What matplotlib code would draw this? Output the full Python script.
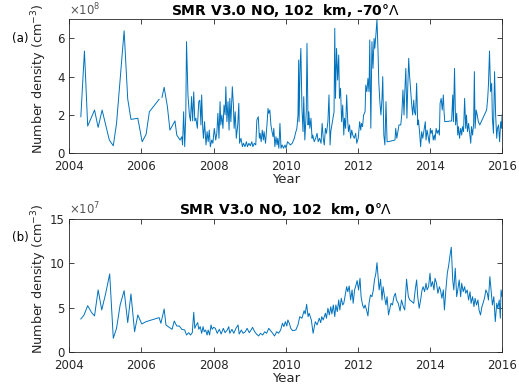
import numpy as np
import matplotlib
matplotlib.use('Agg')
import matplotlib.pyplot as plt

plt.rcParams['font.family'] = ['DejaVu Sans']

# -70 deg panel: decimal year, number density in units of 1e8 cm^-3 (nan = gap)
years_a = [2004.32, 2004.42, 2004.51, 2004.70, 2004.80, 2004.91, 2005.11, 2005.22, 2005.31, 2005.52,
           2005.62, 2005.71, 2005.90, 2006.02, 2006.13, 2006.22, 2006.49, 2006.53, 2006.57, 2006.63,
           2006.72, 2006.79, 2006.93, 2006.98, 2007.07, 2007.12, 2007.14, 2007.17, 2007.20, 2007.23,
           2007.25, 2007.29, 2007.33, 2007.36, 2007.39, 2007.42, 2007.45, 2007.48, 2007.51, 2007.55,
           2007.59, 2007.62, 2007.65, 2007.67, 2007.70, 2007.72, 2007.75, 2007.79, 2007.82, 2007.85,
           2007.88, 2007.91, 2007.95, 2007.98, 2008.02, 2008.06, 2008.09, 2008.12, 2008.15, 2008.18,
           2008.20, 2008.23, 2008.26, 2008.29, 2008.32, 2008.34, 2008.37, 2008.40, 2008.43, 2008.45,
           2008.48, 2008.52, 2008.55, 2008.57, 2008.60, 2008.63, 2008.67, 2008.70, 2008.72, 2008.76,
           2008.80, 2008.83, 2008.87, 2008.91, 2008.94, 2008.98, 2009.02, 2009.06, 2009.09, 2009.13,
           2009.17, 2009.20, 2009.24, 2009.27, 2009.29, 2009.32, 2009.35, 2009.38, 2009.40, 2009.44,
           2009.48, 2009.51, 2009.53, 2009.56, 2009.59, 2009.62, 2009.65, 2009.67, 2009.70, 2009.73,
           2009.76, 2009.78, 2009.81, 2009.84, 2009.87, 2009.90, 2009.94, 2009.98, 2010.01, 2010.05,
           2010.09, 2010.13, 2010.18, 2010.24, 2010.27, 2010.31, 2010.34, 2010.36, 2010.37, 2010.40,
           2010.42, 2010.45, 2010.48, 2010.50, 2010.53, 2010.57, 2010.59, 2010.62, 2010.64, 2010.67,
           2010.70, 2010.73, 2010.75, 2010.79, 2010.83, 2010.87, 2010.90, 2010.94, 2010.98, 2011.01,
           2011.04, 2011.07, 2011.10, 2011.13, 2011.17, 2011.20, 2011.23, 2011.25, 2011.28, 2011.31,
           2011.34, 2011.36, 2011.38, 2011.41, 2011.44, 2011.47, 2011.49, 2011.52, 2011.55, 2011.58,
           2011.61, 2011.63, 2011.66, 2011.69, 2011.72, 2011.74, 2011.77, 2011.80, 2011.83, 2011.86,
           2011.90, 2011.94, 2011.97, 2012.01, 2012.05, 2012.08, 2012.10, 2012.13, 2012.16, 2012.20,
           2012.22, 2012.25, 2012.28, 2012.31, 2012.33, 2012.36, 2012.39, 2012.42, 2012.45, 2012.47,
           2012.50, 2012.53, 2012.56, 2012.58, 2012.61, 2012.64, 2012.67, 2012.69, 2012.72, 2012.75,
           2012.78, 2012.81, 2012.84, 2013.03, 2013.05, 2013.08, 2013.14, 2013.19, 2013.22, 2013.25,
           2013.28, 2013.30, 2013.33, 2013.36, 2013.38, 2013.41, 2013.43, 2013.46, 2013.49, 2013.52,
           2013.55, 2013.57, 2013.60, 2013.63, 2013.66, 2013.68, 2013.71, 2013.74, 2013.77, 2013.80,
           2013.84, 2013.87, 2013.89, 2013.92, 2013.95, 2013.98, 2014.01, 2014.03, 2014.06, 2014.09,
           2014.12, 2014.14, 2014.17, 2014.20, 2014.23, 2014.26, 2014.28, 2014.31, 2014.34, 2014.37,
           2014.39, 2014.41, 2014.60, 2014.63, 2014.65, 2014.68, 2014.71, 2014.74, 2014.77, 2014.79,
           2014.82, 2014.85, 2014.88, 2014.90, 2014.93, 2014.96, 2014.99, 2015.01, 2015.04, 2015.07,
           2015.10, 2015.13, 2015.15, 2015.18, 2015.21, 2015.23, 2015.25, 2015.28, 2015.31, 2015.34,
           2015.38, 2015.57, 2015.60, 2015.62, 2015.65, 2015.68, 2015.71, 2015.73, 2015.76, 2015.79,
           2015.82, 2015.85, 2015.87, 2015.90, 2015.93, 2015.96, 2015.98, 2016.00]
dens_a = [1.90, 5.34, 1.41, 2.25, 1.34, 2.25, 0.68, 0.38, 1.55, 6.40,
          2.83, 1.76, 1.82, 0.59, 0.98, 2.16, 2.81, np.nan, 2.91, 3.44,
          2.43, 1.20, 1.68, 0.94, 0.68, 0.85, 0.42, 2.16, 0.33, 2.00,
          5.83, 3.04, 1.99, 1.68, 2.95, 1.68, 3.20, 1.68, 1.82, 1.29,
          2.69, 2.77, 1.47, 3.04, 1.29, 0.77, 1.64, 0.42, 1.12, 0.59,
          1.20, 0.33, 0.68, 0.51, 1.29, 0.68, 1.03, 2.08, 0.77, 2.69,
          1.47, 1.99, 1.29, 2.51, 2.00, 3.47, 1.64, 2.69, 1.20, 2.86,
          1.64, 3.47, 2.51, 1.29, 2.16, 0.77, 1.47, 2.60, 0.51, 0.77,
          0.33, 0.51, 0.33, 0.59, 0.33, 0.51, 0.38, 0.59, 0.33, 0.51,
          0.42, 1.73, 1.90, 0.77, 1.03, 0.59, 1.20, 0.68, 1.12, 0.51,
          1.47, 2.33, 2.08, 2.25, 1.47, 1.12, 0.85, 1.29, 0.33, 0.85,
          0.42, 0.77, 0.25, 1.55, 0.25, 0.42, 0.25, 0.42, 0.25, 0.59,
          0.51, 0.42, 0.51, 0.77, 1.03, 1.29, 1.99, 4.87, 1.64, 4.60,
          5.48, 2.33, 1.12, 2.95, 0.68, 2.16, 5.74, 1.47, 2.16, 1.29,
          1.82, 0.77, 0.94, 0.59, 0.77, 1.03, 0.59, 0.77, 0.51, 1.55,
          0.77, 0.42, 1.29, 1.03, 1.64, 3.04, 0.42, 1.12, 1.47, 1.82,
          2.16, 6.53, 2.86, 5.48, 3.82, 5.13, 2.86, 3.39, 1.64, 2.51,
          0.94, 1.82, 1.29, 3.04, 1.64, 1.12, 1.47, 0.77, 1.20, 0.94,
          0.77, 1.03, 0.51, 0.77, 1.64, 1.20, 1.55, 1.38, 1.99, 2.16,
          3.56, 3.21, 3.91, 3.21, 5.92, 1.30, 5.83, 4.43, 6.00, 5.48,
          6.18, 7.00, 5.30, 3.73, 2.69, 1.99, 2.86, 4.00, 0.94, 0.42,
          2.69, 0.59, 0.59, 0.68, 1.29, 0.77, 1.47, 1.47, 2.08, 3.30,
          1.99, 3.13, 4.43, 1.82, 3.21, 4.96, 4.17, 3.39, 2.60, 1.99,
          2.77, 2.16, 1.99, 3.65, 1.47, 1.73, 1.12, 0.33, 1.12, 0.77,
          1.29, 1.64, 0.68, 1.20, 0.85, 0.51, 1.29, 1.03, 1.20, 0.68,
          0.94, 0.68, 1.29, 1.03, 1.20, 0.94, 2.60, 2.86, 2.25, 3.04,
          2.16, 1.64, 1.68, 3.04, 1.64, 4.43, 1.47, 2.08, 0.94, 1.38,
          0.77, 1.29, 0.94, 1.38, 1.12, 2.86, 1.29, 1.99, 1.12, 1.55,
          1.03, 0.51, 1.38, 0.94, 1.55, 4.26, 1.29, 2.25, 1.99, 1.64,
          1.47, 2.25, 2.86, 3.56, 5.34, 3.21, 3.65, 1.82, 1.03, 4.26,
          1.99, 0.77, 1.29, 1.47, 0.59, 1.64, 1.29, 2.00]

# 0 deg panel: decimal year, number density in units of 1e7 cm^-3
years_b = [2004.32, 2004.41, 2004.51, 2004.62, 2004.70, 2004.80, 2004.90, 2005.01, 2005.12, 2005.22,
           2005.31, 2005.41, 2005.52, 2005.62, 2005.71, 2005.81, 2005.90, 2006.01, 2006.13, 2006.49,
           2006.54, 2006.63, 2006.68, 2006.77, 2006.85, 2006.91, 2006.98, 2007.05, 2007.12, 2007.20,
           2007.25, 2007.31, 2007.36, 2007.41, 2007.45, 2007.48, 2007.52, 2007.56, 2007.59, 2007.63,
           2007.67, 2007.71, 2007.74, 2007.78, 2007.82, 2007.85, 2007.89, 2007.93, 2007.96, 2008.00,
           2008.05, 2008.10, 2008.16, 2008.21, 2008.27, 2008.32, 2008.38, 2008.42, 2008.45, 2008.51,
           2008.56, 2008.62, 2008.68, 2008.71, 2008.77, 2008.82, 2008.88, 2008.93, 2008.99, 2009.04,
           2009.08, 2009.14, 2009.19, 2009.25, 2009.30, 2009.36, 2009.42, 2009.47, 2009.53, 2009.58,
           2009.64, 2009.69, 2009.75, 2009.80, 2009.86, 2009.91, 2009.95, 2009.99, 2010.03, 2010.06,
           2010.10, 2010.14, 2010.19, 2010.28, 2010.34, 2010.39, 2010.45, 2010.51, 2010.54, 2010.58,
           2010.62, 2010.65, 2010.71, 2010.76, 2010.82, 2010.87, 2010.93, 2010.97, 2011.00, 2011.04,
           2011.10, 2011.13, 2011.17, 2011.21, 2011.25, 2011.28, 2011.32, 2011.36, 2011.39, 2011.43,
           2011.47, 2011.50, 2011.54, 2011.58, 2011.61, 2011.65, 2011.69, 2011.72, 2011.76, 2011.80,
           2011.84, 2011.87, 2011.91, 2011.95, 2011.98, 2012.02, 2012.06, 2012.09, 2012.13, 2012.17,
           2012.20, 2012.24, 2012.28, 2012.31, 2012.35, 2012.39, 2012.43, 2012.46, 2012.50, 2012.53,
           2012.56, 2012.59, 2012.63, 2012.67, 2012.70, 2012.74, 2012.78, 2012.81, 2012.85, 2012.89,
           2012.92, 2012.96, 2013.00, 2013.04, 2013.07, 2013.12, 2013.17, 2013.21, 2013.26, 2013.30,
           2013.35, 2013.40, 2013.44, 2013.50, 2013.55, 2013.59, 2013.63, 2013.66, 2013.70, 2013.74,
           2013.78, 2013.81, 2013.85, 2013.89, 2013.92, 2013.96, 2014.00, 2014.03, 2014.07, 2014.11,
           2014.14, 2014.18, 2014.22, 2014.26, 2014.29, 2014.33, 2014.37, 2014.40, 2014.44, 2014.48,
           2014.52, 2014.55, 2014.59, 2014.63, 2014.66, 2014.70, 2014.74, 2014.77, 2014.81, 2014.85,
           2014.88, 2014.92, 2014.96, 2014.99, 2015.03, 2015.07, 2015.11, 2015.14, 2015.18, 2015.22,
           2015.25, 2015.29, 2015.33, 2015.36, 2015.40, 2015.44, 2015.47, 2015.51, 2015.55, 2015.59,
           2015.62, 2015.66, 2015.70, 2015.73, 2015.77, 2015.81, 2015.85, 2015.88, 2015.92, 2015.95,
           2015.97, 2016.00]
dens_b = [3.74, 4.19, 5.23, 4.45, 4.08, 7.00, 4.75, 6.62, 8.79, 1.57,
          2.69, 5.31, 6.92, 3.33, 6.55, 2.31, 4.19, 3.18, 3.44, 3.89,
          3.26, 4.86, 3.07, 2.80, 2.58, 3.51, 2.95, 2.95, 2.58, 2.50,
          1.94, 2.20, 1.94, 2.20, 4.49, 2.69, 3.07, 3.33, 2.58, 2.88,
          2.13, 2.88, 2.31, 2.50, 1.94, 2.50, 1.94, 3.07, 2.58, 2.80,
          2.69, 2.13, 2.58, 2.05, 2.69, 2.20, 2.50, 2.88, 2.13, 2.58,
          2.13, 2.69, 3.07, 2.05, 2.50, 2.13, 2.31, 2.69, 2.20, 2.50,
          2.80, 2.31, 2.05, 1.83, 2.13, 1.94, 2.31, 2.13, 2.69, 2.43,
          2.13, 1.83, 2.31, 2.13, 2.50, 3.26, 2.88, 3.44, 2.95, 3.63,
          3.26, 2.69, 2.43, 2.50, 3.07, 4.00, 3.82, 4.67, 4.30, 5.39,
          4.00, 4.38, 3.63, 2.13, 3.44, 3.07, 3.82, 3.33, 4.00, 3.63,
          4.38, 3.82, 4.94, 4.19, 5.12, 4.30, 5.31, 4.00, 5.31, 4.56,
          5.87, 4.75, 6.06, 5.31, 5.50, 6.43, 7.36, 6.80, 7.44, 5.87,
          7.00, 5.50, 7.00, 7.56, 8.04, 7.00, 8.30, 6.24, 5.31, 4.94,
          5.31, 4.75, 4.08, 5.50, 6.43, 6.24, 7.00, 8.12, 8.87, 10.06,
          8.49, 7.00, 8.20, 5.87, 7.36, 6.24, 5.31, 6.24, 4.19, 4.94,
          5.50, 5.31, 6.24, 6.62, 5.87, 5.50, 4.64, 5.87, 5.12, 4.75,
          8.20, 6.24, 5.87, 5.68, 5.50, 7.00, 8.12, 6.24, 4.94, 5.87,
          7.00, 7.36, 6.80, 7.75, 7.00, 7.36, 8.87, 7.36, 7.93, 7.00,
          8.30, 7.75, 6.62, 7.36, 7.00, 6.06, 7.00, 4.75, 7.00, 8.87,
          9.80, 10.73, 11.79, 8.12, 7.00, 9.43, 6.24, 7.00, 8.12, 6.24,
          7.75, 6.80, 7.36, 6.62, 7.00, 5.87, 6.80, 5.50, 6.24, 5.12,
          6.06, 5.31, 5.87, 4.75, 4.19, 5.12, 5.50, 6.06, 7.00, 6.62,
          5.87, 8.49, 6.62, 5.31, 6.24, 3.44, 5.50, 4.94, 5.87, 3.82,
          7.00, 6.24]

x_ticks = [2004, 2006, 2008, 2010, 2012, 2014, 2016]
y_ticks_a = [0, 2, 4, 6]
y_ticks_b = [0, 5, 10, 15]

line_color = '#0072BD'

fig = plt.figure(figsize=(5.19, 3.92), dpi=100)
ax1 = fig.add_axes([0.1335, 0.6097, 0.834, 0.341])
ax2 = fig.add_axes([0.1335, 0.1013, 0.834, 0.341])

panels = [
    (ax1, years_a, dens_a, 7, y_ticks_a, '8', 'SMR V3.0 NO, 102  km, -70°$\\Lambda$', '(a)'),
    (ax2, years_b, dens_b, 15, y_ticks_b, '7', 'SMR V3.0 NO, 102  km, 0°$\\Lambda$', '(b)'),
]

for ax, yrs, dens, ymax, yt, expo, title, tag in panels:
    ax.plot(yrs, dens, color=line_color, linewidth=0.7)
    ax.set_xlim(2004, 2016)
    ax.set_ylim(0, ymax)
    ax.set_xticks(x_ticks)
    ax.set_yticks(yt)
    ax.tick_params(direction='in', top=True, right=True, length=3.5, width=0.6,
                   labelsize=8.5, colors='#262626')
    ax.tick_params(axis='x', pad=5)
    for sp in ax.spines.values():
        sp.set_linewidth(0.6)
        sp.set_color('#262626')
    ax.set_title(title, fontsize=10, fontweight='bold', pad=3)
    ax.set_xlabel('Year', fontsize=9.5, color='#262626', labelpad=0)
    ax.set_ylabel('Number density (cm$^{-3}$)', fontsize=9.2, color='#262626')
    ax.yaxis.set_label_coords(-0.047, 0.55)
    ax.text(0.0, 1.01, '$\\times10^{' + expo + '}$', transform=ax.transAxes,
            fontsize=8.5, color='#555555', ha='left', va='bottom')
    ax.text(-0.133, 0.86, tag, transform=ax.transAxes, fontsize=8.5,
            ha='left', va='center')

fig.savefig('out.png', dpi=100)
